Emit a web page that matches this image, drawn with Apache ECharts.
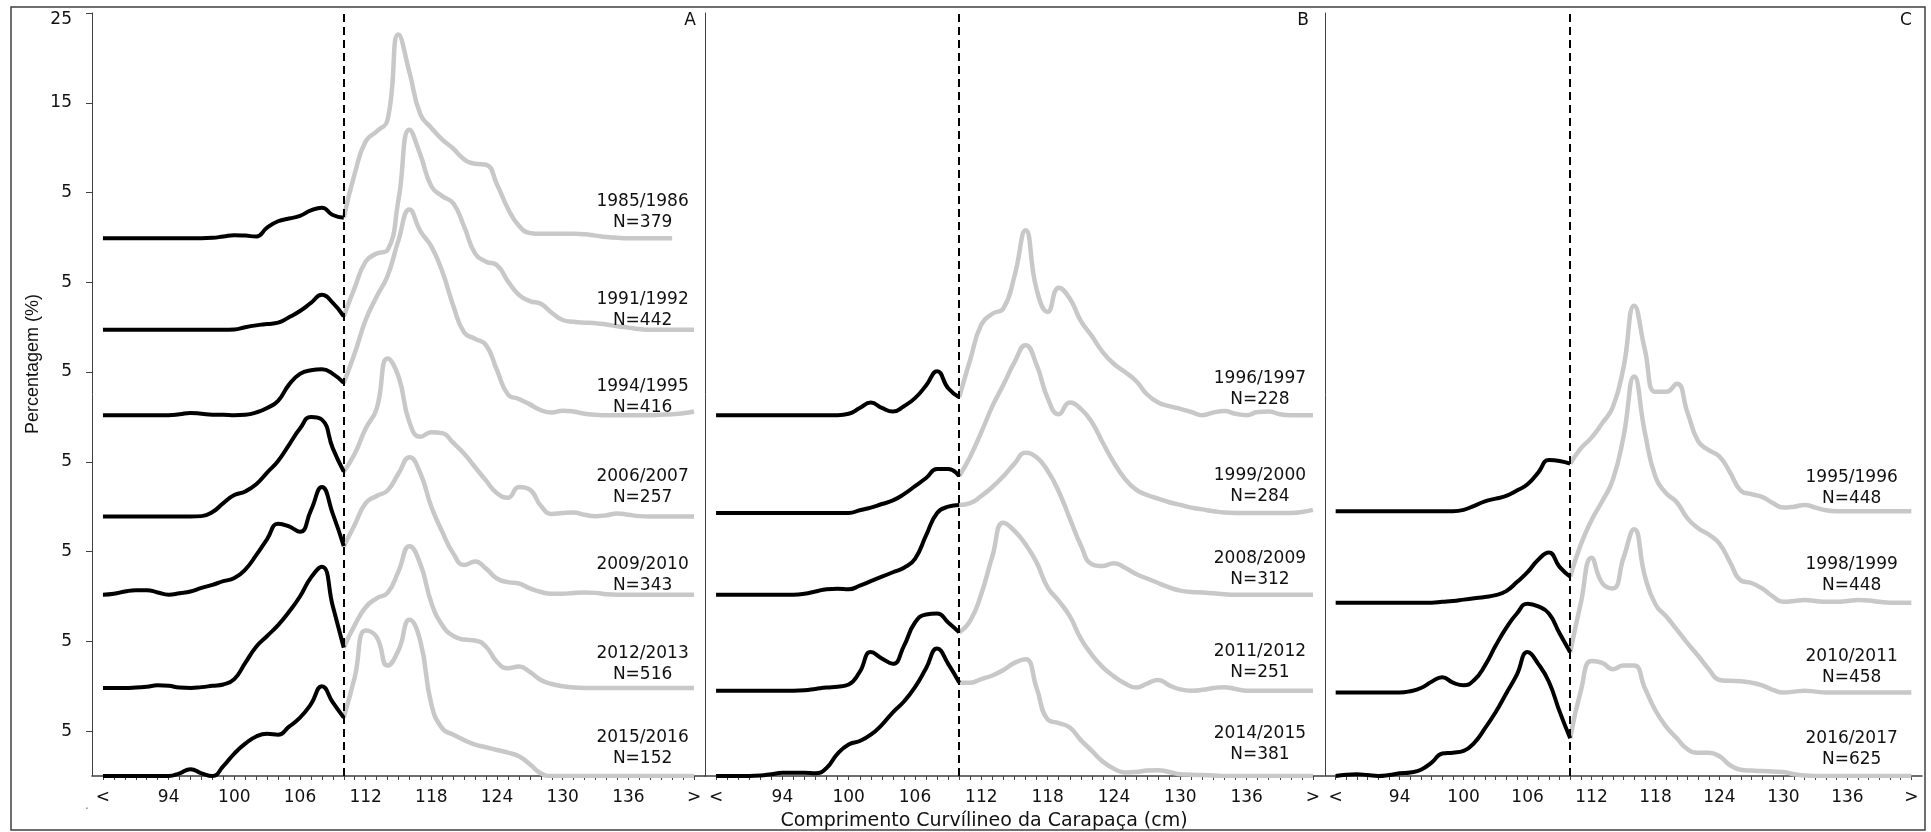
<!DOCTYPE html>
<html><head><meta charset="utf-8">
<script src="https://cdn.jsdelivr.net/npm/echarts@6/dist/echarts.min.js"></script>
<style>html,body{margin:0;padding:0;background:#fff}#c{width:1931px;height:832px}</style>
</head><body><div id="c"></div>
<script>
// ---------- tick labels ----------
const xLabelValues = [88, 94, 100, 106, 112, 118, 124, 130, 136, 142];
const xLabelTexts  = ['<', '94', '100', '106', '112', '118', '124', '130', '136', '>'];
const yTickValues  = [5, 15, 25, 35, 45, 55, 65, 75, 85];
const yTickTexts   = ['5', '5', '5', '5', '5', '5', '5', '15', '25'];
const cutLength = 110;

// ---------- length classes (cm) ----------
const lengthsBelow = [88,89,90,91,92,93,94,95,96,97,98,99,100,101,102,103,104,105,106,107,108,109,110];
const lengthsAbove = [110,111,112,113,114,115,116,117,118,119,120,121,122,123,124,125,126,127,128,129,130,131,132,133,134,135,136,137,138,139,140,141,142];

// ---------- panel A ----------
const seasonsA = ['1985/1986','1991/1992','1994/1995','2006/2007','2009/2010','2012/2013','2015/2016'];
const nA = [379, 442, 416, 257, 343, 516, 152];
const offsetsA = [59.9, 49.7, 40.2, 28.9, 20.2, 9.8, 0];

const below1985 = [0,0,0,0,0,0,0,0,0,0,0.05,0.2,0.35,0.3,0.2,1.2,1.9,2.2,2.5,3.1,3.4,2.6,2.3];
const above1985 = [2.3,7.2,10.8,11.9,13.2,22.7,18.5,13.8,12.3,11.0,10.0,8.8,8.3,8.2,6.0,3.3,1.4,0.6,0.5,0.5,0.5,0.5,0.45,0.3,0.15,0.05,0,0,0,0,0,null,null];
const below1991 = [0,0,0,0,0,0,0,0,0,0,0,0,0.05,0.3,0.5,0.65,0.8,1.4,2.1,3.0,3.9,3.0,1.5];
const above1991 = [1.5,4.7,7.6,8.5,8.9,14.5,22.3,19.5,16.0,14.9,14.1,11.5,8.5,7.6,7.2,5.4,3.9,3.2,2.9,1.9,1.1,0.9,0.8,0.75,0.6,0.4,0.25,0.1,0,0,0,0,0];
const below1994 = [0,0,0,0,0,0,0,0.1,0.25,0.15,0.05,0.05,0,0.05,0.3,0.8,1.6,3.4,4.6,5.0,5.1,4.6,3.6];
const above1994 = [3.6,6.9,10.6,13.2,15.5,19.5,22.9,20.5,18.8,16.0,12.2,9.2,8.5,7.8,5.0,2.3,1.8,1.2,0.55,0.3,0.5,0.4,0.15,0.05,0,0,0,0,0,0.05,0.1,0.2,0.4];
const below2006 = [0,0,0,0,0,0,0,0,0,0.05,0.5,1.5,2.4,2.8,3.6,4.9,6.2,8.0,9.8,11.1,10.8,7.6,5.0];
const above2006 = [5.0,7.0,9.8,12.0,17.6,15.6,10.5,8.9,9.4,9.3,8.2,7.0,5.5,4.0,2.6,2.1,3.3,3.0,1.2,0.3,0.4,0.45,0.2,0.05,0.15,0.35,0.2,0.05,0,0,0,0,0];
const below2009 = [0,0.1,0.35,0.5,0.5,0.25,0,0.15,0.35,0.75,1.1,1.5,1.85,2.8,4.4,6.2,7.9,7.6,7.0,9.4,12.0,9.0,5.4];
const above2009 = [5.4,7.8,10.2,11.0,11.6,13.5,15.3,13.5,9.8,7.0,4.6,3.3,3.7,2.9,1.8,1.4,1.25,0.7,0.3,0.1,0.1,0.2,0.25,0.2,0.05,0,0,0,0,0,0,0,0];
const below2012 = [0,0,0,0.05,0.15,0.3,0.25,0.05,0,0.1,0.25,0.4,1.0,2.8,4.6,5.8,7.0,8.5,10.2,12.3,13.5,9.1,4.5];
const above2012 = [4.5,7.0,9.0,10.0,10.6,13.0,15.8,13.8,9.5,7.0,5.8,5.4,5.3,4.6,2.9,2.2,2.4,1.8,0.9,0.45,0.2,0.05,0,0,0,0,0,0,0,0,0,0,0];
const below2015 = [0,0,0,0,0,0,0,0.3,0.75,0.3,0,1.1,2.5,3.6,4.4,4.7,4.6,5.5,6.5,8.0,10.0,8.2,6.5];
const above2015 = [6.5,11.0,16.2,15.5,12.3,14.0,17.4,15.0,8.0,5.3,4.6,4.0,3.5,3.2,2.9,2.6,2.2,1.3,0.3,0,0,0,0,0,0,0,0,0,0,0,0,0,0];

// ---------- panel B ----------
const seasonsB = ['1996/1997','1999/2000','2008/2009','2011/2012','2014/2015'];
const nB = [228, 284, 312, 251, 381];
const offsetsB = [40.2, 29.3, 20.2, 9.5, 0];

const below1996 = [0,0,0,0,0,0,0,0,0,0,0,0,0.15,0.8,1.4,0.8,0.4,1.0,1.9,3.3,4.9,3.0,2.0];
const above1996 = [2.0,6.2,10.1,11.3,11.9,15.5,20.6,14.0,11.5,14.2,13.0,10.5,8.8,7.0,5.7,4.8,3.8,2.3,1.4,1.0,0.7,0.35,0,0.3,0.45,0.15,0,0.35,0.4,0.1,0,0,0];
const below1999 = [0,0,0,0,0,0,0,0,0,0,0,0,0,0.3,0.6,1.0,1.4,2.1,3.0,3.9,4.9,4.9,4.1];
const above1999 = [4.1,6.3,9.0,11.9,14.3,16.8,18.7,16.5,12.8,11.0,12.3,11.6,10.1,7.8,5.6,3.8,2.6,2.0,1.6,1.2,0.9,0.6,0.4,0.2,0.05,0,0,0,0,0,0,0.1,0.35];
const below2008 = [0,0,0,0,0,0,0,0,0.1,0.35,0.6,0.65,0.6,1.0,1.5,2.0,2.5,3.0,4.0,6.6,9.1,9.8,10.0];
const above2008 = [10.0,10.2,11.0,12.0,13.2,14.6,15.8,15.3,13.8,11.5,8.5,5.5,3.4,3.2,3.5,3.0,2.3,1.8,1.3,0.8,0.45,0.3,0.25,0.15,0.05,0,0,0,0,0,0,0,0];
const below2011 = [0,0,0,0,0,0,0,0,0.05,0.2,0.35,0.45,0.7,2.1,4.3,3.6,3.0,5.0,7.6,8.5,8.6,7.6,6.5];
const above2011 = [6.5,7.8,10.8,15.0,18.7,17.8,16.3,14.3,11.5,10.0,8.3,5.8,4.0,2.6,1.6,0.8,0.35,0.8,1.2,0.6,0.15,0,0.1,0.3,0.4,0.2,0,0,0,0,0,0,0];
const below2014 = [0,0,0,0,0.05,0.2,0.35,0.35,0.35,0.3,0.9,2.5,3.5,3.9,4.6,5.7,7.1,8.3,9.9,12.0,14.2,12.5,10.4];
const above2014 = [10.4,10.4,10.8,11.2,11.8,12.6,13.0,9.8,6.3,5.9,5.4,4.0,2.8,1.6,0.8,0.4,0.45,0.6,0.65,0.45,0.2,0.15,0.1,0.05,0,0,0,0,0,0,0,0,0];

// ---------- panel C ----------
const seasonsC = ['1995/1996','1998/1999','2010/2011','2016/2017'];
const nC = [448, 448, 458, 625];
const offsetsC = [29.5, 19.3, 9.3, 0];

const below1995 = [0,0,0,0,0,0,0,0,0,0,0,0,0.15,0.6,1.1,1.4,1.7,2.3,3.0,4.3,5.7,5.6,5.3];
const above1995 = [5.3,7.0,8.2,9.8,11.6,16.0,22.9,18.0,13.3,13.3,14.2,11.0,7.8,6.8,6.1,4.3,2.3,1.9,1.6,0.9,0.4,0.5,0.7,0.4,0.1,0,0,0,0,0,0,0,0];
const below1998 = [0,0,0,0,0,0,0,0,0,0,0.1,0.2,0.35,0.5,0.65,0.85,1.3,2.3,3.4,4.8,5.6,4.0,2.9];
const above1998 = [2.9,6.5,9.2,11.3,13.7,18.5,25.2,19.0,14.0,12.2,11.2,9.4,8.3,7.6,6.6,4.5,2.5,2.2,1.6,0.7,0.1,0.2,0.3,0.2,0.1,0.1,0.2,0.3,0.25,0.1,0,0,0];
const below2010 = [0,0,0,0,0,0,0,0.15,0.5,1.2,1.7,1.1,0.8,1.4,3.0,5.2,7.2,8.8,9.9,9.6,8.8,6.6,4.5];
const above2010 = [4.5,10.0,15.0,12.2,11.6,15.0,18.2,13.0,9.8,8.5,7.0,5.5,4.1,2.6,1.4,1.3,1.25,1.1,0.8,0.3,0,0.1,0.2,0.1,0,0,0,0,0,0,0,0,0];
const below2016 = [0,0.15,0.2,0.1,0,0.1,0.3,0.4,0.7,1.5,2.5,2.6,2.8,3.7,5.3,7.1,9.2,11.3,13.8,12.5,10.5,7.2,4.2];
const above2016 = [4.2,9.5,12.8,12.6,11.9,12.3,12.3,9.8,7.3,5.5,4.2,3.0,2.6,2.6,2.2,1.2,0.7,0.6,0.55,0.5,0.45,0.2,0.05,0,0,0,0,0,0,0,0,0,0];

// ---------- layout (not data) ----------
const labelPosX = [137.3, 137.2, 136.4];
const labelLiftA = [2.9, 2.2, 2.0, 3.3, 2.2, 2.7, 3.1];
const labelLiftB = [2.9, 2.95, 2.8, 3.2, 3.6];
const labelLiftC = [2.6, 3.1, 2.8, 3.0];

const panels = [
  {seasons: seasonsA, n: nA, offsets: offsetsA, lift: labelLiftA,
   below: [below1985, below1991, below1994, below2006, below2009, below2012, below2015],
   above: [above1985, above1991, above1994, above2006, above2009, above2012, above2015]},
  {seasons: seasonsB, n: nB, offsets: offsetsB, lift: labelLiftB,
   below: [below1996, below1999, below2008, below2011, below2014],
   above: [above1996, above1999, above2008, above2011, above2014]},
  {seasons: seasonsC, n: nC, offsets: offsetsC, lift: labelLiftC,
   below: [below1995, below1998, below2010, below2016],
   above: [above1995, above1998, above2010, above2016]}
];

const minorTicks = [];
for (let v = 88; v <= 142; v++) minorTicks.push(v);

const AX = '#404040';
const FONT = 'DejaVu Sans';
const grids = [
  {left: 92, top: 13, width: 613, height: 763},
  {left: 705, top: 13, width: 619, height: 763},
  {left: 1325, top: 13, width: 597, height: 763}
];

const xAxes = grids.map((g, i) => ({
  type: 'value', gridIndex: i, min: 87, max: 143,
  axisLine: {show: true, onZero: false, lineStyle: {color: AX, width: 1.5}},
  axisTick: {show: true, customValues: minorTicks, length: 4, lineStyle: {color: AX, width: 1}},
  axisLabel: {show: true, customValues: xLabelValues, margin: 13,
    formatter: v => xLabelTexts[xLabelValues.indexOf(v)],
    fontFamily: FONT, fontSize: 17, color: '#111'},
  splitLine: {show: false}
}));

const yAxes = grids.map((g, i) => ({
  type: 'value', gridIndex: i, min: 0, max: 85,
  axisLine: {show: true, lineStyle: {color: AX, width: 1}},
  axisTick: {show: i === 0, customValues: yTickValues, length: 6, lineStyle: {color: AX}},
  axisLabel: {show: i === 0, customValues: yTickValues, margin: 20,
    formatter: v => {
      const t = yTickTexts[yTickValues.indexOf(v)];
      return v === 85 ? '{top|' + t + '}' : t;
    },
    rich: {top: {fontFamily: FONT, fontSize: 17, color: '#111', padding: [14, 0, 0, 0]}},
    fontFamily: FONT, fontSize: 17, color: '#111'},
  splitLine: {show: false}
}));

const series = [];
panels.forEach((p, gi) => {
  p.seasons.forEach((s, k) => {
    const off = p.offsets[k];
    const grayData = [];
    lengthsAbove.forEach((x, j) => { if (p.above[k][j] != null) grayData.push([x, off + p.above[k][j]]); });
    const blackData = lengthsBelow.map((x, j) => [x, off + p.below[k][j]]);
    const g = {
      type: 'line', name: s + ' >', xAxisIndex: gi, yAxisIndex: gi,
      data: grayData, smooth: 0.5, showSymbol: false, symbol: 'none',
      lineStyle: {color: '#c8c8c8', width: 4.5}, z: 2, silent: true,
      markPoint: {
        symbol: 'circle', symbolSize: 1, silent: true,
        itemStyle: {color: 'rgba(0,0,0,0)'},
        label: {show: true, position: 'inside', formatter: s + '\nN=' + p.n[k],
          fontFamily: FONT, fontSize: 17, lineHeight: 21, color: '#111', align: 'center'},
        data: [{coord: [labelPosX[gi], off + p.lift[k]]}]
      }
    };
    if (k === 0) {
      g.markLine = {
        silent: true, symbol: ['none', 'none'], label: {show: false},
        lineStyle: {type: [8, 5], color: '#000', width: 2},
        data: [{xAxis: cutLength}]
      };
    }
    series.push(g);
    series.push({
      type: 'line', name: s + ' <', xAxisIndex: gi, yAxisIndex: gi,
      data: blackData, smooth: 0.5, showSymbol: false, symbol: 'none',
      lineStyle: {color: '#000', width: 4}, z: 3, silent: true
    });
  });
});

const chart = echarts.init(document.getElementById('c'), null, {renderer: 'canvas'});
chart.setOption({
  animation: false,
  backgroundColor: '#fff',
  grid: grids,
  xAxis: xAxes,
  yAxis: yAxes,
  series: series,
  graphic: [
    {type: 'rect', shape: {x: 11, y: 7, width: 1914, height: 823},
     style: {fill: 'none', stroke: AX, lineWidth: 1.5}, silent: true, z: 0},
    {type: 'text', x: 984, y: 821, style: {text: 'Comprimento Curvílineo da Carapaça (cm)',
     font: '19px "DejaVu Sans"', fill: '#111', textAlign: 'center', textVerticalAlign: 'middle'}},
    {type: 'text', x: 33.5, y: 364, rotation: Math.PI / 2, style: {text: 'Percentagem (%)',
     font: '18px "Liberation Sans"', fill: '#111', textAlign: 'center', textVerticalAlign: 'middle'}},
    {type: 'text', x: 690, y: 21, style: {text: 'A', font: '17px "DejaVu Sans"', fill: '#111',
     textAlign: 'center', textVerticalAlign: 'middle'}},
    {type: 'text', x: 1303, y: 21, style: {text: 'B', font: '17px "DejaVu Sans"', fill: '#111',
     textAlign: 'center', textVerticalAlign: 'middle'}},
    {type: 'text', x: 1906, y: 21, style: {text: 'C', font: '17px "DejaVu Sans"', fill: '#111',
     textAlign: 'center', textVerticalAlign: 'middle'}},
    {type: 'text', x: 87, y: 806, style: {text: '.', font: '12px "DejaVu Sans"', fill: '#777',
     textAlign: 'center', textVerticalAlign: 'middle'}}
  ]
});
</script></body></html>
